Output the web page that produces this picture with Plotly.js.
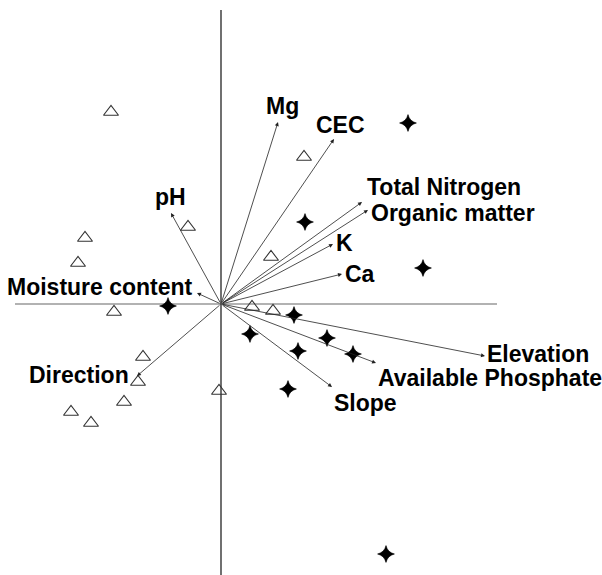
<!DOCTYPE html>
<html>
<head>
<meta charset="utf-8">
<script src="https://cdn.plot.ly/plotly-3.0.1.min.js"></script>
<style>html,body{margin:0;padding:0;background:#fff;}#chart{width:602px;height:575px;}</style>
</head>
<body>
<div id="chart"></div>
<script>
// Environmental variable arrows (biplot scores)
const envNames = ["Mg", "CEC", "Total Nitrogen", "Organic matter", "K", "Ca",
  "Moisture content", "pH", "Direction", "Elevation", "Available Phosphate", "Slope"];
const envX = [0.57, 1.13, 1.41, 1.47, 1.12, 1.21, -0.24, -0.50, -0.84, 2.64, 1.55, 1.11];
const envY = [1.82, 1.65, 1.02, 0.94, 0.60, 0.30, 0.11, 0.91, -0.72, -0.52, -0.59, -0.83];

// Sites group 1 (open triangles)
const triX = [-1.10, -1.36, -1.43, -0.33, 0.50, 0.83, -1.07, -0.78, -0.83, -0.97, -1.50, -1.30, -0.02, 0.31, 0.52];
const triY = [1.92, 0.66, 0.41, 0.77, 0.47, 1.47, -0.08, -0.53, -0.78, -0.98, -1.08, -1.19, -0.87, -0.03, -0.07];

// Sites group 2 (filled stars)
const starX = [1.87, 0.84, 2.02, -0.53, 0.73, 0.29, 1.06, 0.77, 1.32, 0.67, 1.65];
const starY = [1.81, 0.82, 0.36, -0.02, -0.11, -0.30, -0.34, -0.47, -0.50, -0.85, -2.50];

// Axis cross extents
const hAxisX = [-2.06, 2.76];
const vAxisY = [-2.71, 2.94];

// label placement (style only)
const labelPlace = {
  "Mg": {xanchor: "center", yanchor: "bottom", xshift: 4, yshift: 1},
  "CEC": {xanchor: "center", yanchor: "bottom", xshift: 6, yshift: -1},
  "Total Nitrogen": {xanchor: "left", yanchor: "middle", xshift: 3, yshift: 15},
  "Organic matter": {xanchor: "left", yanchor: "middle", xshift: 1, yshift: -3},
  "K": {xanchor: "left", yanchor: "middle", xshift: 1, yshift: 1},
  "Ca": {xanchor: "left", yanchor: "middle", xshift: 1, yshift: 0},
  "Moisture content": {xanchor: "right", yanchor: "middle", xshift: -2, yshift: 6},
  "pH": {xanchor: "center", yanchor: "bottom", xshift: -1, yshift: 1},
  "Direction": {xanchor: "right", yanchor: "middle", xshift: -6, yshift: 1},
  "Elevation": {xanchor: "left", yanchor: "middle", xshift: 0, yshift: 2},
  "Available Phosphate": {xanchor: "left", yanchor: "middle", xshift: 0, yshift: -15},
  "Slope": {xanchor: "left", yanchor: "middle", xshift: 0, yshift: -16}
};

const traces = [
  {x: triX, y: triY, type: "scatter", mode: "markers", hoverinfo: "skip",
   marker: {symbol: "triangle-up-open", size: 13, color: "#333", line: {width: 1.1, color: "#333"}}},
  {x: starX, y: starY, type: "scatter", mode: "markers", hoverinfo: "skip",
   marker: {symbol: "star-diamond", size: 12, color: "#000", line: {width: 0.6, color: "#000"}}}
];

const annotations = [];
envNames.forEach((n, i) => {
  annotations.push({x: envX[i], y: envY[i], ax: 0, ay: 0, axref: "x", ayref: "y",
    xref: "x", yref: "y", text: "", showarrow: true, arrowhead: 2, arrowsize: 1,
    arrowwidth: 0.8, arrowcolor: "#222", standoff: 0, startstandoff: 0});
  const p = labelPlace[n];
  annotations.push({x: envX[i], y: envY[i], xref: "x", yref: "y", text: "<b>" + n + "</b>",
    showarrow: false, xanchor: p.xanchor, yanchor: p.yanchor, xshift: p.xshift, yshift: p.yshift,
    font: {family: "Arial, 'Liberation Sans', sans-serif", size: 23, color: "#000"}});
});

const layout = {
  width: 602, height: 575,
  margin: {l: 0, r: 0, t: 0, b: 0},
  paper_bgcolor: "#fff", plot_bgcolor: "#fff",
  showlegend: false,
  xaxis: {range: [-2.21, 3.81], visible: false, fixedrange: true},
  yaxis: {range: [-2.71, 3.04], visible: false, fixedrange: true},
  shapes: [
    {type: "line", xref: "x", yref: "y", x0: hAxisX[0], x1: hAxisX[1], y0: 0, y1: 0,
     line: {color: "#666", width: 1.2}, layer: "below"},
    {type: "line", xref: "x", yref: "y", x0: 0, x1: 0, y0: vAxisY[0], y1: vAxisY[1],
     line: {color: "#111", width: 1.2}, layer: "below"}
  ],
  annotations: annotations
};

Plotly.newPlot("chart", traces, layout, {staticPlot: true, displayModeBar: false});
</script>
</body>
</html>
